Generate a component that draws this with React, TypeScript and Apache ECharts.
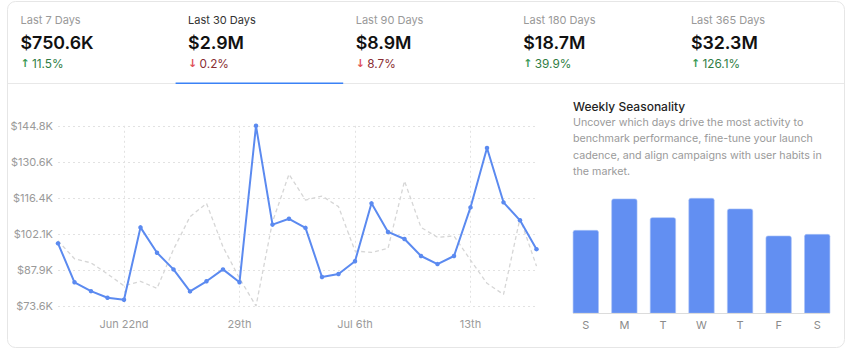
import React, { useEffect, useRef } from "react";
import * as echarts from "echarts";

const dates = [
  "Jun 18", "Jun 19", "Jun 20", "Jun 21", "Jun 22", "Jun 23", "Jun 24", "Jun 25", "Jun 26", "Jun 27",
  "Jun 28", "Jun 29", "Jun 30", "Jul 1", "Jul 2", "Jul 3", "Jul 4", "Jul 5", "Jul 6", "Jul 7",
  "Jul 8", "Jul 9", "Jul 10", "Jul 11", "Jul 12", "Jul 13", "Jul 14", "Jul 15", "Jul 16", "Jul 17",
];
const tickLabels: Record<string, string> = {
  "Jun 22": "Jun 22nd",
  "Jun 29": "29th",
  "Jul 6": "Jul 6th",
  "Jul 13": "13th",
};
const currentRevenue = [
  98400, 83000, 79500, 76900, 76100, 104700, 94700, 88100, 79400, 83400,
  88100, 83000, 144840, 105800, 108100, 104500, 85100, 86300, 91300, 114200,
  102900, 100100, 93400, 90200, 93400, 112600, 136100, 114600, 107500, 96100,
];
const previousRevenue = [
  99400, 92300, 90700, 86300, 81600, 83400, 80600, 96000, 108900, 114200,
  97000, 84600, 73640, 106900, 125700, 115500, 117100, 112900, 95400, 94800,
  96400, 123000, 104700, 100800, 101300, 91800, 82600, 78200, 108300, 89400,
];
const weekdays = ["S", "M", "T", "W", "T", "F", "S"];
const weekdayValues = [83.3, 114.7, 96.0, 115.3, 104.7, 77.7, 79.3];

const tabLabels = ["Last 7 Days", "Last 30 Days", "Last 90 Days", "Last 180 Days", "Last 365 Days"];
const tabValues = ["$750.6K", "$2.9M", "$8.9M", "$18.7M", "$32.3M"];
const tabChanges = ["11.5%", "0.2%", "8.7%", "39.9%", "126.1%"];
const tabUp = [true, false, false, true, true];
const activeTab = 1;

const descLines = [
  "Uncover which days drive the most activity to",
  "benchmark performance, fine-tune your launch",
  "cadence, and align campaigns with user habits in",
  "the market.",
];

const FONT = "Inter, 'Noto Sans', sans-serif";

export default function App() {
  const ref = useRef<HTMLDivElement>(null);
  useEffect(() => {
    if (!ref.current) return;
    const chart = echarts.init(ref.current, undefined, { renderer: "svg" });

    const tabW = 167.6;
    const graphics: any[] = [
      {
        type: "rect",
        shape: { x: 7.5, y: 1.5, width: 837, height: 346, r: 8 },
        style: { fill: "#fff", stroke: "#e6e6e6", lineWidth: 1 },
        z: -10,
      },
      {
        type: "line",
        shape: { x1: 8, y1: 83.5, x2: 844, y2: 83.5 },
        style: { stroke: "#e8e8e8", lineWidth: 1 },
      },
      {
        type: "rect",
        shape: { x: 8 + activeTab * tabW, y: 82.5, width: tabW, height: 1.5 },
        style: { fill: "#3b82f6" },
        z: 5,
      },
      {
        type: "line",
        shape: { x1: 573, y1: 313.5, x2: 830, y2: 313.5 },
        style: { stroke: "#dcdcdc", lineWidth: 1 },
        z: 5,
      },
      {
        type: "text",
        x: 573,
        y: 106,
        style: {
          text: "Weekly Seasonality",
          font: `500 12px ${FONT}`,
          fill: "#1f1f1f",
          verticalAlign: "middle",
        },
      },
    ];
    descLines.forEach((t, i) => {
      graphics.push({
        type: "text",
        x: 573,
        y: 122.5 + i * 16.3,
        style: { text: t, font: `10.7px ${FONT}`, fill: "#9a9a9a", verticalAlign: "middle" },
      });
    });
    tabLabels.forEach((lab, i) => {
      const x = 8 + i * tabW + 12.5;
      const up = tabUp[i];
      graphics.push(
        {
          type: "text",
          x,
          y: 20,
          style: {
            text: lab,
            font: `11px ${FONT}`,
            fill: i === activeTab ? "#333" : "#999",
            verticalAlign: "middle",
          },
        },
        {
          type: "text",
          x,
          y: 42.5,
          style: {
            text: tabValues[i],
            font: `600 17.8px ${FONT}`,
            fill: "#111",
            verticalAlign: "middle",
          },
        },
        {
          type: "text",
          x: x,
          y: 63.5,
          style: {
            text: up ? "↑" : "↓",
            font: `bold 11px 'DejaVu Sans', sans-serif`,
            fill: up ? "#3a9a55" : "#e0535a",
            verticalAlign: "middle",
          },
        },
        {
          type: "text",
          x: x + 11.5,
          y: 63.5,
          style: {
            text: tabChanges[i],
            font: `11.8px ${FONT}`,
            fill: up ? "#2f7d44" : "#8a2e33",
            verticalAlign: "middle",
          },
        }
      );
    });

    const isTick = (i: number) => !!tickLabels[dates[i]];

    chart.setOption({
      animation: false,
      textStyle: { fontFamily: FONT },
      graphic: graphics,
      grid: [
        { left: 58, right: 317.5, top: 125.8, bottom: 51, containLabel: false },
        { left: 566.5, right: 17.5, top: 198, bottom: 43.5, containLabel: false },
      ],
      xAxis: [
        {
          type: "category",
          gridIndex: 0,
          data: dates,
          boundaryGap: false,
          axisLine: { show: false },
          axisTick: { show: false },
          axisLabel: {
            interval: (i: number) => isTick(i),
            formatter: (v: string) => tickLabels[v] || "",
            color: "#9a9a9a",
            fontSize: 11,
            margin: 12,
            fontFamily: FONT,
          },
          splitLine: {
            show: true,
            interval: (i: number) => isTick(i),
            lineStyle: { color: "#e2e2e2", type: [2, 3], width: 1 },
          },
        },
        {
          type: "category",
          gridIndex: 1,
          data: weekdays,
          axisLine: { show: false },
          axisTick: { show: false },
          axisLabel: { color: "#8a8a8a", fontSize: 11, margin: 6, interval: 0, fontFamily: FONT },
          splitLine: { show: false },
        },
      ],
      yAxis: [
        {
          type: "value",
          gridIndex: 0,
          min: 73640,
          max: 144840,
          interval: 14240,
          axisLine: { show: false },
          axisTick: { show: false },
          axisLabel: {
            formatter: (v: number) => `$${(v / 1000).toFixed(1)}K`,
            color: "#9a9a9a",
            fontSize: 11,
            margin: 5,
            fontFamily: FONT,
          },
          splitLine: { lineStyle: { color: "#e2e2e2", type: [2, 3], width: 1 } },
        },
        {
          type: "value",
          gridIndex: 1,
          min: 0,
          max: "dataMax",
          show: false,
        },
      ],
      series: [
        {
          type: "line",
          xAxisIndex: 0,
          yAxisIndex: 0,
          data: previousRevenue,
          symbol: "none",
          lineStyle: { color: "#d6d6d6", width: 1.3, type: [4, 3] },
          z: 2,
        },
        {
          type: "line",
          xAxisIndex: 0,
          yAxisIndex: 0,
          data: currentRevenue,
          symbol: "circle",
          symbolSize: 4.5,
          lineStyle: { color: "#5b8af0", width: 2 },
          itemStyle: { color: "#5b8af0" },
          z: 3,
        },
        {
          type: "bar",
          xAxisIndex: 1,
          yAxisIndex: 1,
          data: weekdayValues,
          barWidth: 26,
          itemStyle: {
            color: "#628ff2",
            borderRadius: [2, 2, 0, 0],
            borderColor: "#a9c2f7",
            borderWidth: 0.6,
          },
        },
      ],
    });
    return () => chart.dispose();
  }, []);
  return (
    <div
      ref={ref}
      style={{ position: "fixed", left: 0, top: 0, width: 854, height: 357, background: "#fff" }}
    />
  );
}
